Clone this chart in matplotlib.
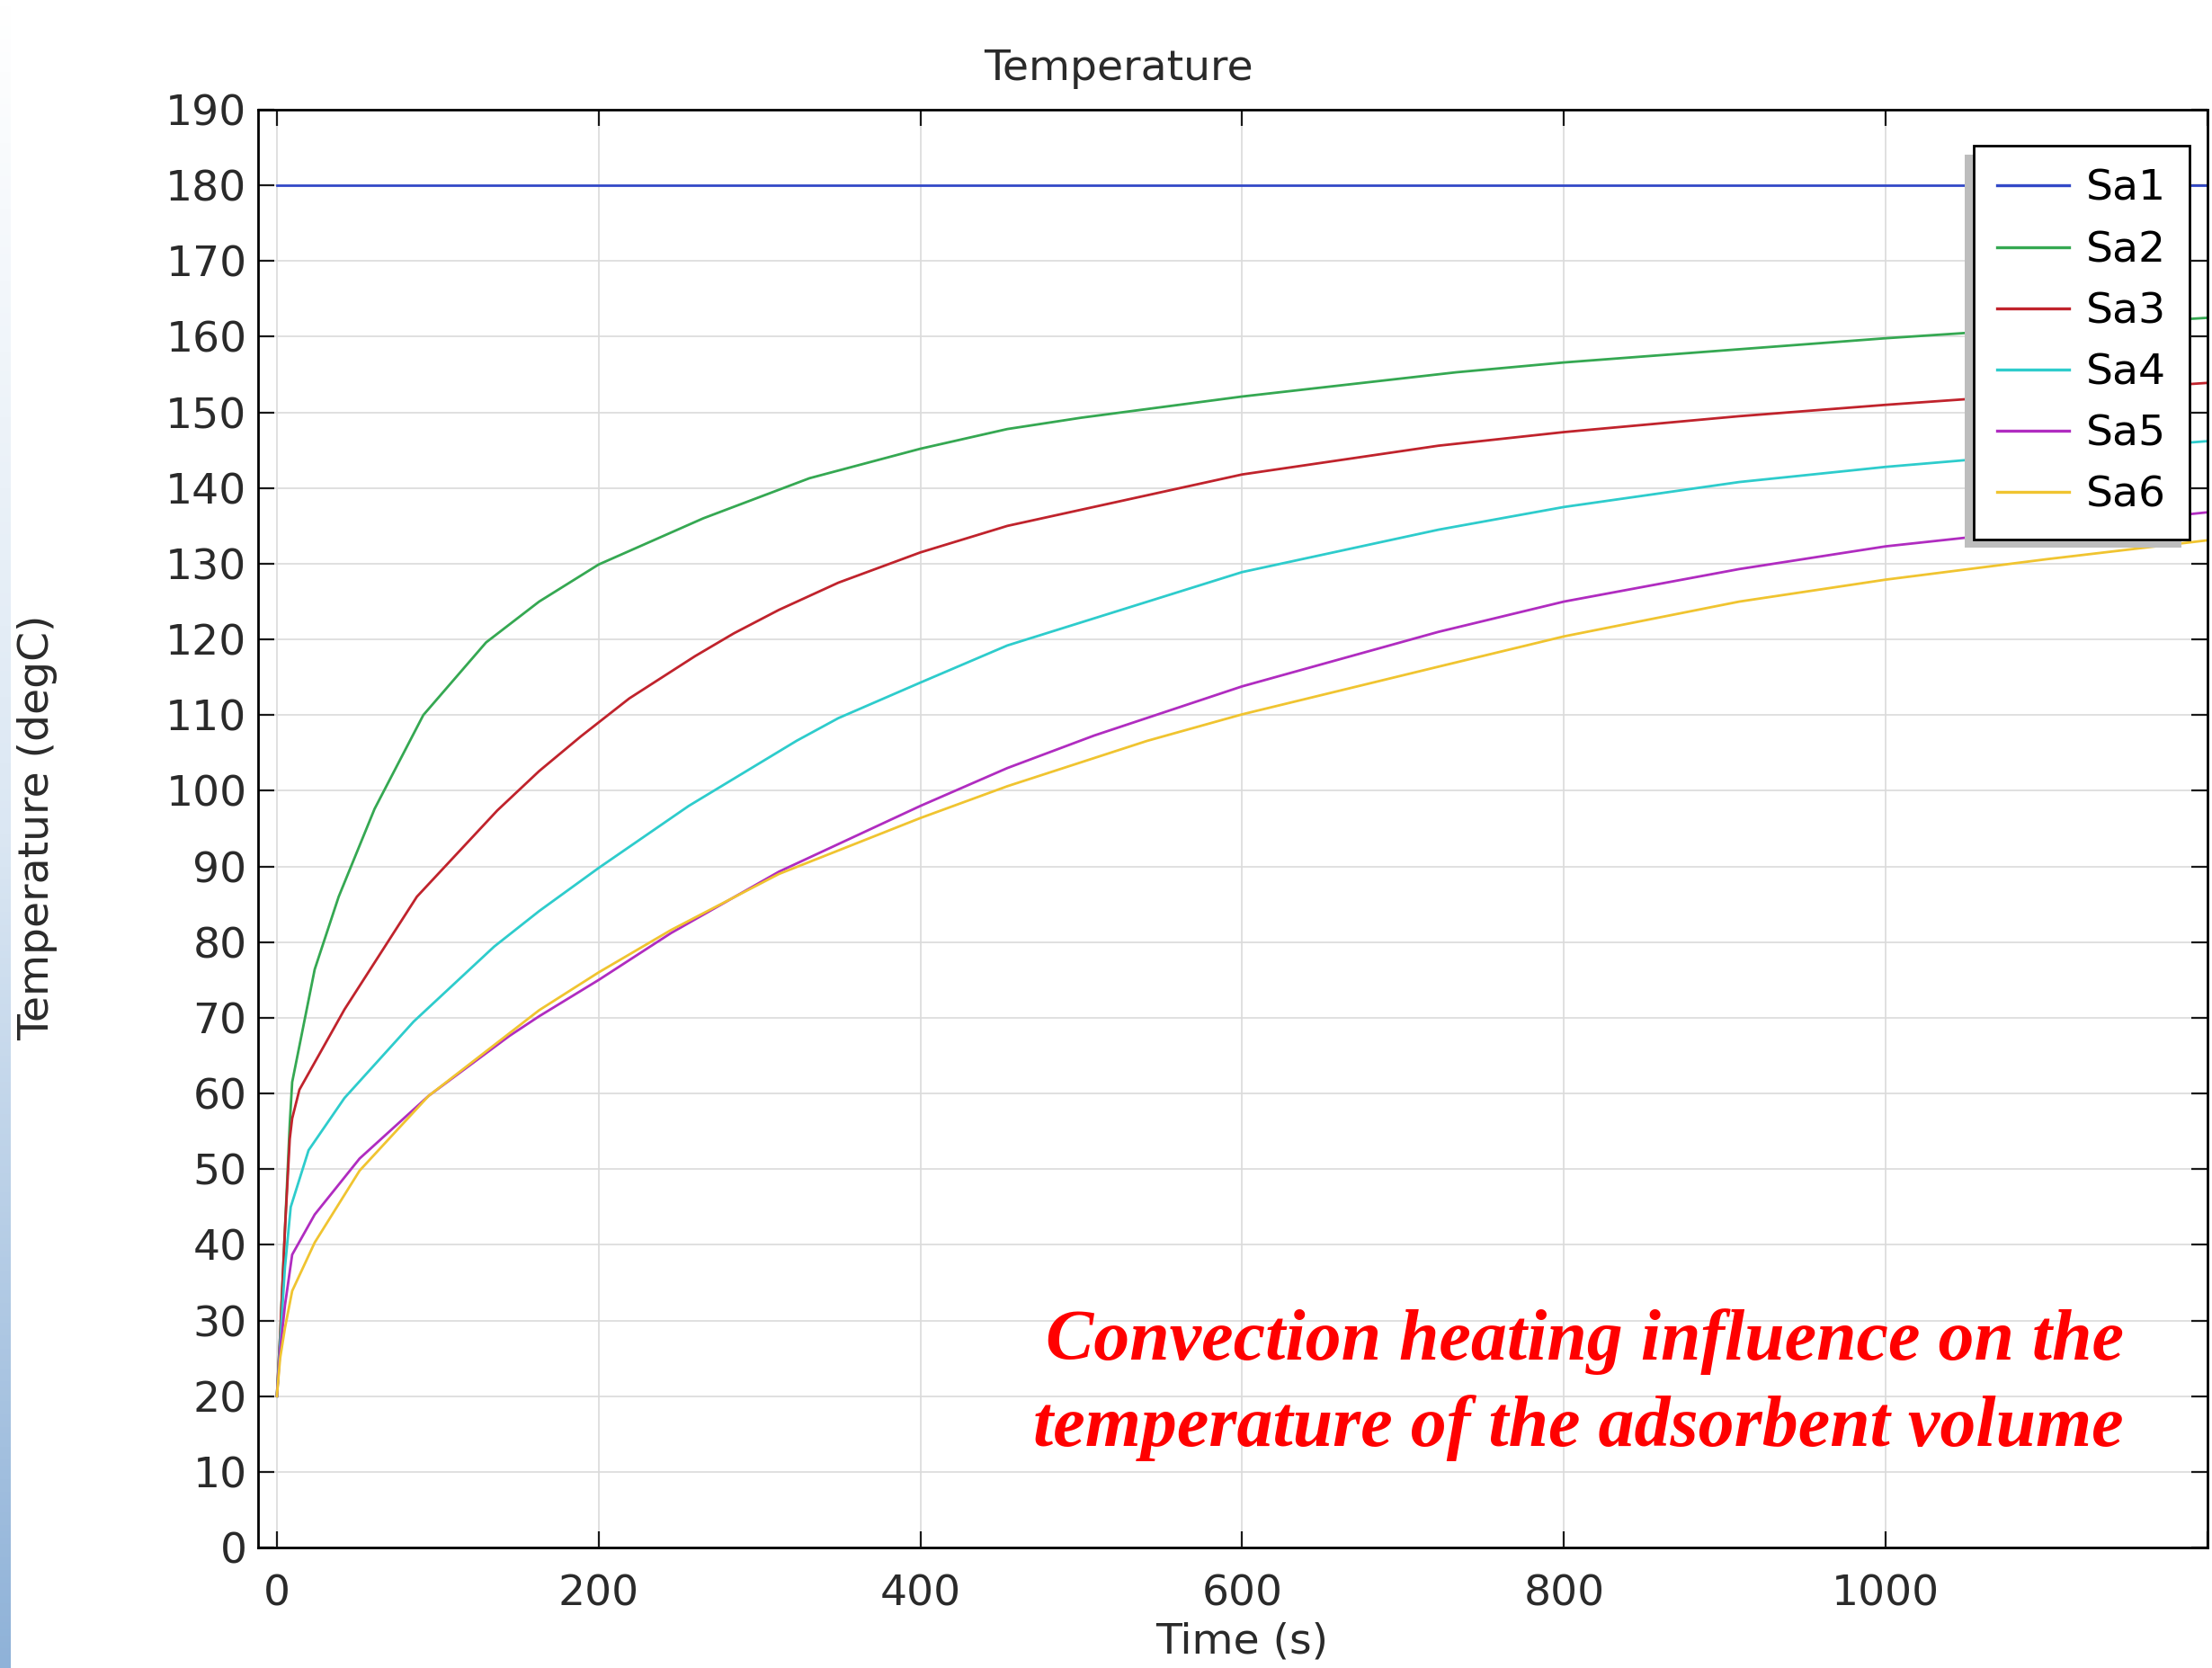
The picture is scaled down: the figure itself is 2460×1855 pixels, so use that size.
import numpy as np
import matplotlib
matplotlib.use("Agg")
import matplotlib.pyplot as plt
from matplotlib.colors import LinearSegmentedColormap

# values (time in s, temperature in degC)
t_sa1 = [0, 1200]
sa1 = [180, 180]

t_sa2 = [0, 2, 5, 8, 9.5, 23.5, 38.4, 60.7, 91, 130, 163, 200, 265, 331, 400, 454, 500, 600, 733, 800, 900, 1000, 1100, 1200]
sa2 = [20, 28, 42, 56, 61.5, 76.4, 86.0, 97.6, 110, 119.6, 125.0, 129.9, 136.0, 141.3, 145.2, 147.8, 149.3, 152.1, 155.3, 156.6, 158.2, 159.8, 161.2, 162.5]

t_sa3 = [0, 2, 5, 8, 9.5, 14, 42, 87, 137, 163, 189, 219, 260, 284, 312, 349, 400, 454, 600, 722, 800, 909, 1000, 1100, 1200]
sa3 = [20, 28, 42, 54, 56.7, 60.5, 71.1, 86.0, 97.4, 102.6, 107.2, 112.2, 117.8, 120.8, 123.9, 127.5, 131.5, 135.0, 141.8, 145.6, 147.4, 149.5, 151.0, 152.5, 153.9]

t_sa4 = [0, 2, 5, 8.6, 19.7, 42, 85, 135, 163, 200, 256, 323, 349, 400, 454, 600, 722, 800, 909, 1000, 1100, 1200]
sa4 = [20, 27, 37, 45, 52.5, 59.4, 69.5, 79.4, 84.1, 89.8, 98.0, 106.6, 109.6, 114.3, 119.2, 128.9, 134.5, 137.5, 140.8, 142.8, 144.6, 146.2]

t_sa5 = [0, 2, 5, 9.5, 23.5, 51.4, 94.4, 144.5, 163, 200, 245, 312, 400, 454, 508, 600, 722, 800, 909, 1000, 1100, 1200]
sa5 = [20, 26, 32, 38.7, 44.0, 51.4, 59.7, 67.6, 70.2, 75.0, 81.2, 89.3, 98.0, 103.0, 107.3, 113.8, 121.0, 125.0, 129.3, 132.3, 134.6, 136.8]

t_sa6 = [0, 2, 5, 9.5, 23.5, 51.4, 94.4, 163, 200, 245, 312, 400, 454, 541, 600, 722, 800, 909, 1000, 1100, 1200]
sa6 = [20, 25, 29, 33.9, 40.3, 49.8, 59.7, 71.0, 76.0, 81.6, 89.0, 96.4, 100.6, 106.6, 110.1, 116.4, 120.4, 125.0, 127.9, 130.6, 133.1]

labels = ["Sa1", "Sa2", "Sa3", "Sa4", "Sa5", "Sa6"]
colors = ["#3349c8", "#35a852", "#c0232c", "#2ecccc", "#b02cc0", "#f0c430"]
series = [(t_sa1, sa1), (t_sa2, sa2), (t_sa3, sa3), (t_sa4, sa4), (t_sa5, sa5), (t_sa6, sa6)]

x_ticks = [0, 200, 400, 600, 800, 1000, 1200]
x_tick_labels = ["0", "200", "400", "600", "800", "1000", ""]  # 1200 label falls off the cropped edge
y_ticks = list(range(0, 200, 10))

note_lines = ["Convection heating influence on the", "temperature of the adsorbent volume"]

fig = plt.figure(figsize=(24.6, 18.55), dpi=100)

# slide background strip at the left edge
strip = fig.add_axes([0, 0, 0.0048, 1])
cmap = LinearSegmentedColormap.from_list("strip", ["#ffffff", "#dbe7f3", "#8fb2d8"])
strip.imshow(np.linspace(0, 1, 256).reshape(-1, 1), aspect="auto", cmap=cmap)
strip.axis("off")

ax = fig.add_axes([0.11667, 0.07224, 0.88130, 0.86199])
for (t, v), lab, col in zip(series, labels, colors):
    ax.plot(t, v, color=col, lw=2.0, label=lab)

ax.set_xlim(-11.7, 1200)
ax.set_ylim(0, 190)
ax.set_xticks(x_ticks)
ax.set_xticklabels(x_tick_labels)
ax.set_yticks(y_ticks)
ax.grid(True, color="#dadada", lw=1.2)
ax.set_axisbelow(True)
for s in ax.spines.values():
    s.set_linewidth(2)
ax.tick_params(axis="both", direction="in", length=13, width=1.6, top=True, right=True,
               labelsize=34, colors="#1a1a1a")
ax.tick_params(axis="x", pad=21, labeltop=False)
ax.tick_params(axis="y", pad=9, labelright=False)
plt.setp(ax.get_xticklabels() + ax.get_yticklabels(), color="#2a2a2a")

leg = ax.legend(loc="upper right", bbox_to_anchor=(0.990, 0.9127), bbox_transform=fig.transFigure,
                fontsize=34, frameon=True, fancybox=False, framealpha=1, edgecolor="black",
                handlelength=1.7, handletextpad=0.4, borderpad=0.55, labelspacing=0.49,
                borderaxespad=0,
                shadow={"ox": -7, "oy": -7, "facecolor": "#bdbdbd", "edgecolor": "none", "alpha": 1})
leg.get_frame().set_linewidth(2)
for line in leg.get_lines():
    line.set_linewidth(2.4)

fig.text(0.5057, 0.9585, "Temperature", fontsize=34, ha="center", va="center", color="#2a2a2a")
fig.text(0.5614, 0.0156, "Time (s)", fontsize=34, ha="center", va="center", color="#2a2a2a")
fig.text(0.0171, 0.504, "Temperature (degC)", fontsize=34, rotation=90, ha="center", va="center",
         color="#2a2a2a")

fig.text(0.9602, 0.1849, note_lines[0], fontsize=57.5, family="Liberation Serif", weight="bold",
         style="italic", color="#ff0000", ha="right", va="baseline")
fig.text(0.9602, 0.1332, note_lines[1], fontsize=57.5, family="Liberation Serif", weight="bold",
         style="italic", color="#ff0000", ha="right", va="baseline")

fig.savefig("out.png", dpi=100)
